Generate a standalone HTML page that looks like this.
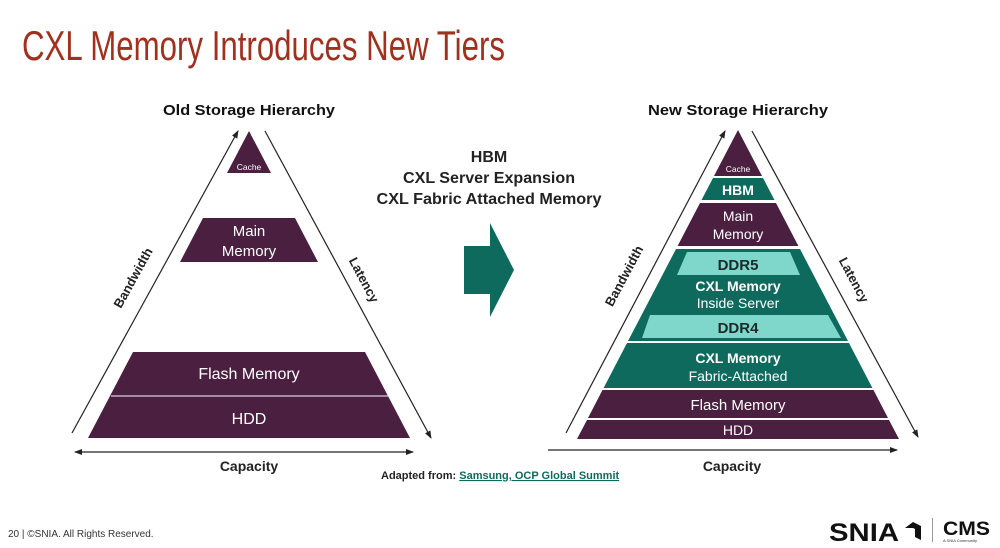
<!DOCTYPE html>
<html><head><meta charset="utf-8"><style>
html,body{margin:0;padding:0;background:#fff;}
svg{display:block;}
text{font-family:"Liberation Sans",sans-serif;}
</style></head><body>
<svg width="1000" height="548" viewBox="0 0 1000 548" xmlns="http://www.w3.org/2000/svg">
<defs>
<marker id="ah" markerWidth="8" markerHeight="8" refX="7" refY="4" orient="auto" markerUnits="userSpaceOnUse"><path d="M0,1 L8,4 L0,7 z" fill="#222"/></marker>
<marker id="ahs" markerWidth="8" markerHeight="8" refX="1" refY="4" orient="auto" markerUnits="userSpaceOnUse"><path d="M8,1 L0,4 L8,7 z" fill="#222"/></marker>
</defs>
<rect width="1000" height="548" fill="#fff"/>
<text x="22" y="60" font-size="42" fill="#a0311f" textLength="483" lengthAdjust="spacingAndGlyphs">CXL Memory Introduces New Tiers</text>

<!-- OLD -->
<text x="249" y="115" font-size="15" font-weight="bold" fill="#111" text-anchor="middle" textLength="172" lengthAdjust="spacingAndGlyphs">Old Storage Hierarchy</text>
<polygon points="249,131 271,173 227,173" fill="#4a1f40"/>
<text x="249" y="170" font-size="8.5" fill="#fff" text-anchor="middle">Cache</text>
<polygon points="203,218 295,218 318,262 180,262" fill="#4a1f40"/>
<text x="249" y="236" font-size="15" fill="#fff" text-anchor="middle">Main</text>
<text x="249" y="256" font-size="15" fill="#fff" text-anchor="middle">Memory</text>
<polygon points="133,352 365,352 410,438 88,438" fill="#4a1f40"/>
<line x1="111" y1="396" x2="388" y2="396" stroke="#fff" stroke-width="1"/>
<text x="249" y="379" font-size="16" fill="#fff" text-anchor="middle">Flash Memory</text>
<text x="249" y="424" font-size="16" fill="#fff" text-anchor="middle">HDD</text>
<line x1="72" y1="433" x2="238" y2="131" stroke="#222" stroke-width="1.2" marker-end="url(#ah)"/>
<line x1="265" y1="131" x2="431" y2="438" stroke="#222" stroke-width="1.2" marker-end="url(#ah)"/>
<line x1="75" y1="452" x2="413" y2="452" stroke="#222" stroke-width="1.2" marker-start="url(#ahs)" marker-end="url(#ah)"/>
<text x="249" y="471" font-size="14" font-weight="bold" fill="#222" text-anchor="middle">Capacity</text>
<text transform="translate(137,280) rotate(-61)" font-size="13" font-weight="bold" fill="#222" text-anchor="middle">Bandwidth</text>
<text transform="translate(360,282) rotate(62)" font-size="13" font-weight="bold" fill="#222" text-anchor="middle">Latency</text>

<!-- middle -->
<text x="489" y="162" font-size="16" font-weight="bold" fill="#222" text-anchor="middle">HBM</text>
<text x="489" y="183" font-size="16" font-weight="bold" fill="#222" text-anchor="middle" textLength="172" lengthAdjust="spacingAndGlyphs">CXL Server Expansion</text>
<text x="489" y="204" font-size="16" font-weight="bold" fill="#222" text-anchor="middle" textLength="225" lengthAdjust="spacingAndGlyphs">CXL Fabric Attached Memory</text>
<polygon points="464,246 490,246 490,223 514,270 490,317 490,294 464,294" fill="#0f6a5e"/>

<!-- NEW -->
<text x="738" y="115" font-size="15" font-weight="bold" fill="#111" text-anchor="middle" textLength="180" lengthAdjust="spacingAndGlyphs">New Storage Hierarchy</text>
<polygon points="738,130 762,176 714,176" fill="#4a1f40"/>
<text x="738" y="172" font-size="8.5" fill="#fff" text-anchor="middle">Cache</text>
<polygon points="713,178 763,178 774.5,200 701.5,200" fill="#0f6a5e"/>
<text x="738" y="195" font-size="14" font-weight="bold" fill="#fff" text-anchor="middle">HBM</text>
<polygon points="700,203 776,203 798.4,246 677.6,246" fill="#4a1f40"/>
<text x="738" y="221" font-size="14" fill="#fff" text-anchor="middle">Main</text>
<text x="738" y="239" font-size="14" fill="#fff" text-anchor="middle">Memory</text>
<polygon points="676,249 800,249 848,341 628,341" fill="#0f6a5e"/>
<polygon points="687,252 790,252 800,275 677,275" fill="#7fd6cb"/>
<text x="738" y="270" font-size="15" font-weight="bold" fill="#1a2a2a" text-anchor="middle">DDR5</text>
<text x="738" y="291" font-size="14" font-weight="bold" fill="#fff" text-anchor="middle">CXL Memory</text>
<text x="738" y="308" font-size="14" fill="#fff" text-anchor="middle">Inside Server</text>
<polygon points="650,315 828,315 841,338 642,338" fill="#7fd6cb"/>
<text x="738" y="333" font-size="15" font-weight="bold" fill="#1a2a2a" text-anchor="middle">DDR4</text>
<polygon points="627,343 849,343 872.4,388 603.6,388" fill="#0f6a5e"/>
<text x="738" y="363" font-size="14" font-weight="bold" fill="#fff" text-anchor="middle">CXL Memory</text>
<text x="738" y="381" font-size="14" fill="#fff" text-anchor="middle">Fabric-Attached</text>
<polygon points="602.5,390 873.5,390 888,418 588,418" fill="#4a1f40"/>
<text x="738" y="410" font-size="15" fill="#fff" text-anchor="middle">Flash Memory</text>
<polygon points="587,420 889,420 899,439 577,439" fill="#4a1f40"/>
<text x="738" y="435" font-size="14" fill="#fff" text-anchor="middle">HDD</text>
<line x1="566" y1="433" x2="725" y2="131" stroke="#222" stroke-width="1.2" marker-end="url(#ah)"/>
<line x1="752" y1="131" x2="918" y2="437" stroke="#222" stroke-width="1.2" marker-end="url(#ah)"/>
<line x1="548" y1="450" x2="897" y2="450" stroke="#222" stroke-width="1.2" marker-end="url(#ah)"/>
<text x="732" y="471" font-size="14" font-weight="bold" fill="#222" text-anchor="middle">Capacity</text>
<text transform="translate(628,278) rotate(-62)" font-size="13" font-weight="bold" fill="#222" text-anchor="middle">Bandwidth</text>
<text transform="translate(850,282) rotate(62)" font-size="13" font-weight="bold" fill="#222" text-anchor="middle">Latency</text>

<text x="381" y="479" font-size="11" font-weight="bold" fill="#222">Adapted from: <tspan fill="#0f6a5e" text-decoration="underline">Samsung, OCP Global Summit</tspan></text>

<text x="8" y="537" font-size="10" fill="#333">20 | ©SNIA. All Rights Reserved.</text>
<text x="829" y="541" font-size="25" font-weight="bold" fill="#111" textLength="70" lengthAdjust="spacingAndGlyphs">SNIA</text>
<path d="M905,528 l8,-6 l8,4 v14 l-6,-3 v-8 l-2,-1 z" fill="#111"/>
<rect x="932" y="518" width="1" height="24" fill="#999"/>
<text x="943" y="535" font-size="19" font-weight="bold" fill="#111" textLength="47" lengthAdjust="spacingAndGlyphs">CMS</text>
<text x="943" y="542" font-size="4" fill="#333">A SNIA Community</text>
</svg>
</body></html>
